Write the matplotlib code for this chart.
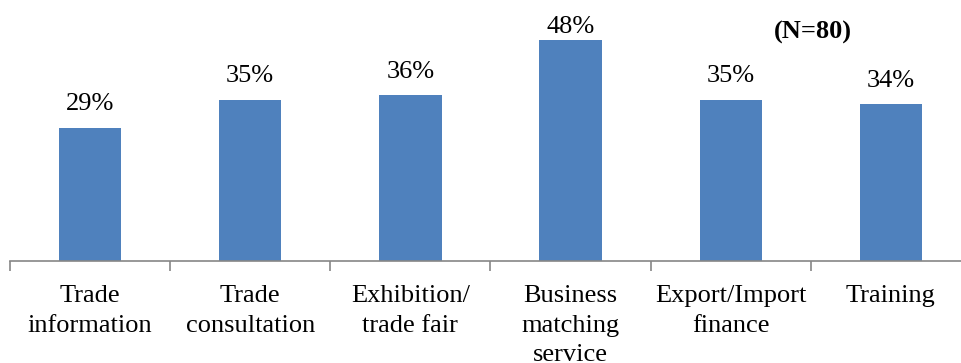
import matplotlib.pyplot as plt

categories = ['Trade\ninformation', 'Trade\nconsultation', 'Exhibition/\ntrade fair',
              'Business\nmatching\nservice', 'Export/Import\nfinance', 'Training']
values = [29, 35, 36, 48, 35, 34]
labels = ['29%', '35%', '36%', '48%', '35%', '34%']

plt.rcParams['font.family'] = 'Liberation Serif'

fig = plt.figure(figsize=(9.62, 3.63), dpi=100)
ax = fig.add_axes([10 / 962, 102 / 363, 961 / 962, 261 / 363])

ymax = 56.7
px = 261 / ymax  # pixels per percent

x = range(len(categories))
bars = ax.bar(x, values, width=0.39, color='#4F81BD')

# value labels sit above the bars, but are kept inside the plot area
for b, lab in zip(bars, labels):
    y = min(b.get_height() + 17.5 / px, (261 - 33) / px)
    ax.text(b.get_x() + b.get_width() / 2, y, lab,
            ha='center', va='baseline', fontsize=19)

ax.text(813 / 962, 1 - 32 / 363, '(N=80)', transform=fig.transFigure,
        ha='center', va='center', fontsize=19, fontweight='bold')

ax.set_xlim(-0.5, 5.5)
ax.set_ylim(0, ymax)
ax.set_yticks([])
for s in ['top', 'right', 'left']:
    ax.spines[s].set_visible(False)
ax.spines['bottom'].set_color('#868686')
ax.spines['bottom'].set_linewidth(1.2)

ax.set_xticks([i - 0.5 for i in range(len(categories) + 1)])
ax.set_xticklabels([])
ax.tick_params(axis='x', length=7, color='#868686', width=1.2)
for i, c in enumerate(categories):
    ax.text(i, -24 / px, c, ha='center', va='top', fontsize=19,
            linespacing=1.45)

fig.savefig('out.png', dpi=100)
